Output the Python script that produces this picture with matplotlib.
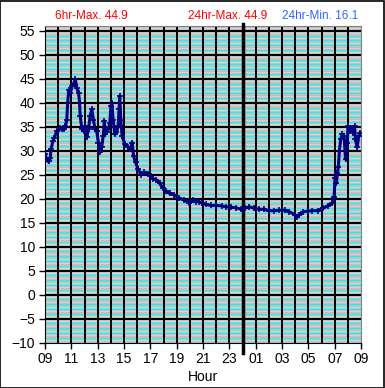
import numpy as np
import matplotlib
matplotlib.use('Agg')
import matplotlib.pyplot as plt
from matplotlib.patches import Rectangle

plt.rcParams['font.family'] = ['Liberation Sans', 'DejaVu Sans']

# hours since 09:00 of previous day (9 .. 33), temperature readings
hours = [9.0, 9.1, 9.2, 9.3, 9.4, 9.45, 9.6, 9.7, 9.9, 10.1, 10.3, 10.45, 10.55,
         10.65, 10.72, 10.8, 10.92, 11.05, 11.17, 11.3, 11.42, 11.55, 11.62, 11.67,
         11.8, 11.92, 12.05, 12.17, 12.3, 12.42, 12.55, 12.67, 12.8, 12.92, 13.05,
         13.17, 13.3, 13.42, 13.5, 13.57, 13.67, 13.8, 13.92, 14.0, 14.07, 14.17,
         14.3, 14.42, 14.55, 14.62, 14.67, 14.75, 14.85, 15.05, 15.3, 15.47, 15.62,
         15.72, 15.87, 16.05, 16.3, 16.55, 16.8, 17.05, 17.2, 17.45, 17.7, 17.95,
         18.2, 18.45, 18.8, 19.2, 19.55, 19.95, 20.2, 20.45, 20.7, 20.95, 21.2,
         21.6, 22.0, 22.4, 22.75, 23.15, 23.5, 23.9, 24.15, 24.5, 24.9, 25.25,
         25.6, 26.0, 26.4, 26.8, 27.2, 27.55, 27.95, 28.1, 28.3, 28.55, 28.95,
         29.3, 29.7, 30.1, 30.45, 30.8, 30.95, 31.02, 31.07, 31.12, 31.2, 31.27,
         31.35, 31.45, 31.55, 31.7, 31.82, 31.95, 32.0, 32.15, 32.27, 32.4, 32.5,
         32.57, 32.7, 32.82, 32.92]
temps = [29.3, 28.4, 28.0, 27.8, 28.5, 30.3, 32.0, 32.7, 34.1, 34.8, 34.6, 34.5, 35.1,
         36.5, 40.0, 42.7, 42.0, 43.4, 44.0, 44.9, 43.0, 42.0, 40.0, 37.2,
         34.5, 34.1, 35.1, 32.8, 34.5, 37.2, 38.6, 36.5, 34.5, 34.1, 31.7,
         29.7, 30.7, 33.1, 36.2, 33.4, 33.8, 34.5, 35.8, 39.3, 40.0, 36.5,
         33.4, 33.8, 35.1, 38.6, 41.4, 36.5, 33.1, 31.4, 30.7, 30.3, 31.7,
         28.9, 27.6, 26.2, 25.0, 25.5, 25.2, 24.7, 24.2, 23.9, 23.2, 22.2,
         21.5, 21.1, 20.8, 20.1, 19.7, 19.2, 19.7, 19.4, 19.4, 19.0, 18.8,
         18.6, 18.6, 18.5, 18.3, 18.2, 18.1, 17.8, 18.0, 18.3, 18.0, 17.8,
         17.8, 17.5, 17.5, 17.6, 17.6, 17.3, 16.7, 16.1, 16.7, 17.2, 17.4,
         17.5, 17.5, 18.0, 18.5, 19.0, 20.4, 24.4, 24.9, 23.2, 25.3, 26.7,
         30.0, 32.4, 33.4, 33.1, 28.2, 31.7, 35.1, 34.1, 34.8, 33.7, 35.1,
         32.4, 30.7, 33.1, 33.7]

header_texts = ['6hr-Max. 44.9', '24hr-Max. 44.9', '24hr-Min. 16.1']
header_colors = ['#FF0000', '#FF0000', '#3366FF']

fig = plt.figure(figsize=(3.85, 3.88), dpi=100)
ax = fig.add_axes([0.117, 0.117, 0.821, 0.816])
ax.set_facecolor('#C0C0C0')

ax.set_xlim(9, 33)
ax.set_ylim(-10, 56)

# horizontal grid: light lines every 0.5, cyan every 1, black every 5
for v in np.arange(-9.5, 56, 1.0):
    ax.axhline(v, color='#D4D4D4', lw=0.72, antialiased=False, zorder=0.5)
for v in range(-9, 56):
    if v % 5:
        ax.axhline(v, color='#00FFFF', lw=0.72, antialiased=False, zorder=0.6)
for v in range(-5, 56, 5):
    ax.axhline(v, color='black', lw=1.3, antialiased=False, zorder=0.7)
for h in range(10, 33):
    ax.axvline(h, color='black', lw=1.3, antialiased=False, zorder=0.7)

# midnight marker
ax.plot([24, 24], [-12.2, 56.4], color='black', lw=2.5, clip_on=False, zorder=3)

ax.plot(hours, temps, color='#000080', lw=2.2, marker='+', ms=5, mew=1.2, zorder=4)

ticks = list(range(9, 34, 2))
ax.set_xticks(ticks)
ax.set_xticklabels(['%02d' % (t % 24) for t in ticks])
ax.set_yticks(range(-10, 56, 5))
ax.tick_params(axis='both', labelsize=10, length=4, width=1, color='black', pad=3)
ax.set_xlabel('Hour', fontsize=10, labelpad=3)

for s in ['left', 'bottom']:
    ax.spines[s].set_color('black')
for s in ['top', 'right']:
    ax.spines[s].set_color('#808080')

xs = [0.143, 0.592, 0.930]
has = ['left', 'center', 'right']
for t, c, x, ha in zip(header_texts, header_colors, xs, has):
    fig.text(x, 0.958, t, color=c, fontsize=8.5, ha=ha, va='center')

fig.patches.append(Rectangle((0.001, 0.001), 0.997, 0.997, transform=fig.transFigure,
                             fill=False, edgecolor='black', lw=1.2))

fig.savefig('out.png', dpi=100)
